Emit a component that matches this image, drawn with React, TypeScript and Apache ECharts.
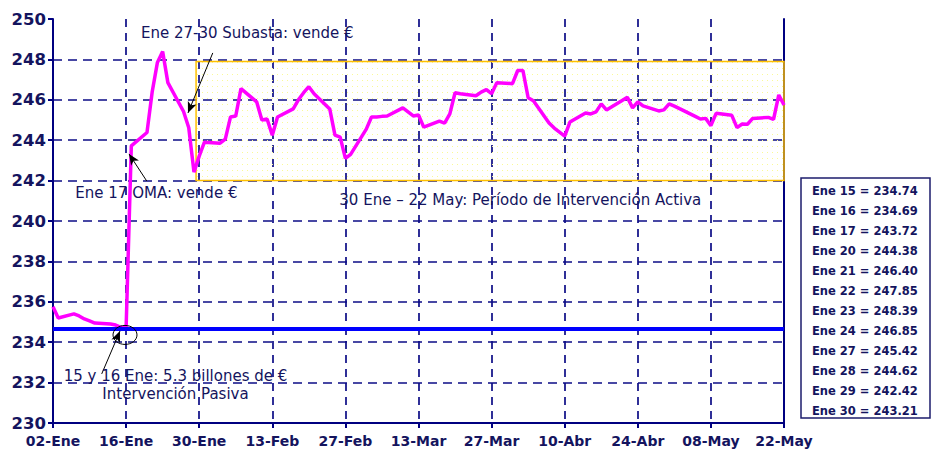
import React, { useEffect, useRef } from "react";
import * as echarts from "echarts";

// ---- data ----
const tickLabels = ["02-Ene", "16-Ene", "30-Ene", "13-Feb", "27-Feb", "13-Mar", "27-Mar", "10-Abr", "24-Abr", "08-May", "22-May"];

const tradeDates = [
  "2003-01-02", "2003-01-03", "2003-01-06", "2003-01-07", "2003-01-08", "2003-01-09", "2003-01-10",
  "2003-01-13", "2003-01-14", "2003-01-15", "2003-01-16", "2003-01-17",
  "2003-01-20", "2003-01-21", "2003-01-22", "2003-01-23", "2003-01-24",
  "2003-01-27", "2003-01-28", "2003-01-29", "2003-01-30", "2003-01-31",
  "2003-02-03", "2003-02-04", "2003-02-05", "2003-02-06", "2003-02-07",
  "2003-02-10", "2003-02-11", "2003-02-12", "2003-02-13", "2003-02-14",
  "2003-02-17", "2003-02-18", "2003-02-19", "2003-02-20", "2003-02-21",
  "2003-02-24", "2003-02-25", "2003-02-26", "2003-02-27", "2003-02-28",
  "2003-03-03", "2003-03-04", "2003-03-05", "2003-03-06", "2003-03-07",
  "2003-03-10", "2003-03-11", "2003-03-12", "2003-03-13", "2003-03-14",
  "2003-03-17", "2003-03-18", "2003-03-19", "2003-03-20", "2003-03-21",
  "2003-03-24", "2003-03-25", "2003-03-26", "2003-03-27", "2003-03-28",
  "2003-03-31", "2003-04-01", "2003-04-02", "2003-04-03", "2003-04-04",
  "2003-04-07", "2003-04-08", "2003-04-09", "2003-04-10", "2003-04-11",
  "2003-04-14", "2003-04-15", "2003-04-16", "2003-04-17", "2003-04-18",
  "2003-04-21", "2003-04-22", "2003-04-23", "2003-04-24", "2003-04-25",
  "2003-04-28", "2003-04-29", "2003-04-30", "2003-05-01", "2003-05-02",
  "2003-05-05", "2003-05-06", "2003-05-07", "2003-05-08", "2003-05-09",
  "2003-05-12", "2003-05-13", "2003-05-14", "2003-05-15", "2003-05-16",
  "2003-05-19", "2003-05-20", "2003-05-21", "2003-05-22",
];

const rates = [
  235.75, 235.2, 235.4, 235.3, 235.15, 235.05, 234.95,
  234.9, 234.85, 234.74, 234.69, 243.72,
  244.38, 246.4, 247.85, 248.39, 246.85,
  245.42, 244.62, 242.42, 243.21, 243.9,
  243.85, 244.05, 245.15, 245.2, 246.55,
  245.9, 245.0, 245.05, 244.25, 245.15,
  245.55, 246.0, 246.35, 246.65, 246.3,
  245.55, 244.25, 244.15, 243.1, 243.3,
  244.55, 245.15, 245.15, 245.18, 245.2,
  245.6, 245.4, 245.2, 245.25, 244.65,
  244.95, 244.85, 245.3, 246.35, 246.3,
  246.2, 246.38, 246.5, 246.3, 246.85,
  246.8, 247.45, 247.45, 246.1, 245.95,
  244.85, 244.6, 244.4, 244.2, 244.9,
  245.35, 245.3, 245.4, 245.8, 245.5,
  245.97, 246.12, 245.6, 245.9, 245.7,
  245.45, 245.5, 245.8, 245.69, 245.56,
  245.18, 245.05, 245.08, 244.72, 245.33,
  245.23, 244.62, 244.8, 244.79, 245.08,
  245.13, 245.03, 246.24, 245.74,
];

const passiveLevel = 234.69;

const boxLabels = ["Ene 15", "Ene 16", "Ene 17", "Ene 20", "Ene 21", "Ene 22", "Ene 23", "Ene 24", "Ene 27", "Ene 28", "Ene 29", "Ene 30"];
const boxValues = ["234.74", "234.69", "243.72", "244.38", "246.40", "247.85", "248.39", "246.85", "245.42", "244.62", "242.42", "243.21"];

// annotation anchors in data units [day offset, value]
const activeZone = { from: [27.4, 247.9], to: [140, 242.0] };
const arrows = [
  { from: [30.6, 248.32], to: [25.85, 245.35] },
  { from: [17.95, 241.98], to: [14.56, 243.32] },
  { from: [9.33, 232.43], to: [12.83, 234.55] },
];
const notes = [
  { at: [37.2, 249.31], text: "Ene 27-30 Subasta: vende €" },
  { at: [19.8, 241.39], text: "Ene 17 OMA: vende €" },
  { at: [89.5, 241.04], text: "30 Ene – 22 May: Período de Intervención Activa" },
  { at: [23.46, 231.88], text: "15 y 16 Ene: 5.3 billones de €\nIntervención Pasiva" },
];
const circleAt = [13.79, 234.36];

const NAVY = "#14145e";
const GRID = "#0c0c86";
const FONT = '"DejaVu Sans", Verdana, sans-serif';

const DAY = 86400000;
const startMs = Date.parse(tradeDates[0]);
const dayOf = (s: string) => Math.round((Date.parse(s) - startMs) / DAY);

function makeDots(): string {
  const c = document.createElement("canvas");
  c.width = 5;
  c.height = 6;
  const g = c.getContext("2d");
  if (g) {
    g.fillStyle = "rgb(250,250,150)";
    g.fillRect(2, 2, 1, 1);
  }
  return c.toDataURL();
}

export default function App() {
  const ref = useRef<HTMLDivElement>(null);

  useEffect(() => {
    if (!ref.current) return;
    const chart = echarts.init(ref.current, null, { renderer: "svg" });
    const lineData = tradeDates.map((d, i) => [dayOf(d), rates[i]]);

    let dots: any = "rgba(255,255,170,0.25)";
    try {
      dots = { image: makeDots(), repeat: "repeat" };
    } catch (e) {}

    chart.setOption({
      animation: false,
      backgroundColor: "#ffffff",
      grid: { left: 53, right: 148, top: 19, bottom: 29 },
      xAxis: {
        type: "value",
        min: 0,
        max: 140,
        interval: 14,
        axisLine: { show: true, lineStyle: { color: "#000080", width: 2 } },
        axisTick: { show: true, length: 5, lineStyle: { color: "#000080", width: 2 } },
        axisLabel: {
          color: NAVY,
          fontFamily: FONT,
          fontWeight: "bold",
          fontSize: 14,
          margin: 11,
          formatter: (v: number) => tickLabels[Math.round(v / 14)] ?? "",
        },
        splitLine: {
          show: true,
          showMinLine: false,
          showMaxLine: false,
          lineStyle: { color: GRID, width: 1.7, type: [8, 6] },
        },
      },
      yAxis: [
        {
          type: "value",
          min: 230,
          max: 250,
          interval: 2,
          axisLine: { show: true, lineStyle: { color: "#000080", width: 2 } },
          axisTick: { show: true, length: 5, lineStyle: { color: "#000080", width: 2 } },
          axisLabel: { color: NAVY, fontFamily: FONT, fontWeight: "bold", fontSize: 16.5, margin: 7 },
          splitLine: {
            show: true,
            showMinLine: false,
            showMaxLine: false,
            lineStyle: { color: GRID, width: 1.7, type: [9, 6] },
          },
        },
        {
          type: "value",
          min: 230,
          max: 250,
          interval: 2,
          position: "right",
          axisLine: { show: true, lineStyle: { color: "#000080", width: 2 } },
          axisTick: { show: false },
          axisLabel: { show: false },
          splitLine: { show: false },
        },
      ],
      series: [
        {
          type: "line",
          data: lineData,
          showSymbol: false,
          symbol: "none",
          silent: true,
          z: 3,
          lineStyle: { color: "#ff00ff", width: 3.5 },
          markArea: {
            silent: true,
            itemStyle: { color: dots, borderColor: "#ffc000", borderWidth: 1.5 },
            data: [[{ coord: activeZone.from }, { coord: activeZone.to }]],
          },
          markLine: {
            silent: true,
            symbol: ["none", "none"],
            label: { show: false },
            data: [
              { yAxis: passiveLevel, lineStyle: { color: "#0000ff", width: 4, type: "solid" } },
              ...arrows.map((a) => [
                { coord: a.from, symbol: "none", lineStyle: { color: "#000", width: 1, type: "solid" } },
                { coord: a.to, symbol: "arrow", symbolSize: [7, 11] },
              ]),
            ],
          },
        },
      ],
    });

    const px = (p: number[]) => chart.convertToPixel({ gridIndex: 0 }, p) as number[];
    const graphics: any[] = [];
    notes.forEach((n) => {
      const [x, y] = px(n.at);
      graphics.push({
        type: "text",
        x,
        y,
        z: 10,
        silent: true,
        style: {
          text: n.text,
          fill: NAVY,
          font: `15px ${FONT}`,
          lineHeight: 18,
          align: "center",
          verticalAlign: "middle",
          textAlign: "center",
          textVerticalAlign: "middle",
        },
      });
    });
    const [cx, cy] = px(circleAt);
    graphics.push({
      type: "ellipse",
      z: 10,
      silent: true,
      shape: { cx, cy, rx: 12, ry: 9.5 },
      style: { fill: "none", stroke: "#000000", lineWidth: 1 },
    });

    // value box on the right
    const boxX = 801;
    const boxY = 178;
    graphics.push({
      type: "rect",
      z: 10,
      silent: true,
      shape: { x: boxX, y: boxY, width: 129, height: 240 },
      style: { fill: "#ffffff", stroke: "#1c1c6c", lineWidth: 1.5 },
    });
    boxLabels.forEach((l, i) => {
      graphics.push({
        type: "text",
        z: 11,
        silent: true,
        x: boxX + 11,
        y: boxY + 13 + i * 20,
        style: {
          text: `${l} = ${boxValues[i]}`,
          fill: NAVY,
          font: `bold 11.5px ${FONT}`,
          align: "left",
          verticalAlign: "middle",
          textAlign: "left",
          textVerticalAlign: "middle",
        },
      });
    });

    chart.setOption({ graphic: graphics });

    return () => chart.dispose();
  }, []);

  return (
    <div
      ref={ref}
      style={{ position: "fixed", left: 0, top: 0, width: 932, height: 452, background: "#fff" }}
    />
  );
}
